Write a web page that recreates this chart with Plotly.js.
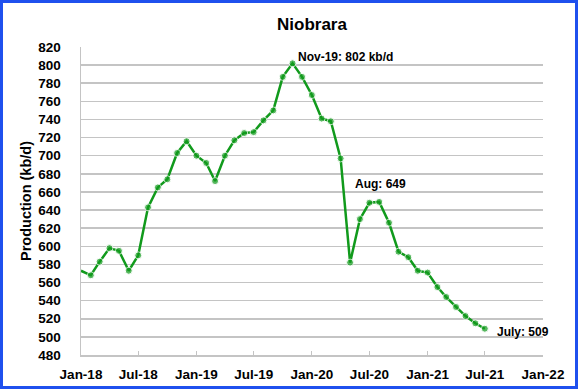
<!DOCTYPE html>
<html>
<head>
<meta charset="utf-8">
<script src="https://cdn.plot.ly/plotly-3.0.1.min.js"></script>
<style>
  html, body { margin: 0; padding: 0; background: #ffffff; }
  #wrap { position: relative; width: 579px; height: 391px; overflow: hidden; }
  #chart { position: absolute; left: 0; top: 0; width: 579px; height: 391px; }
  #frame { position: absolute; left: 0; top: 0; width: 578px; height: 389px;
           box-sizing: border-box; border: 3px solid #1f50ee; pointer-events: none; }
</style>
</head>
<body>
<div id="wrap">
  <div id="chart"></div>
  <div id="frame"></div>
</div>
<script>
// Monthly Niobrara production (kb/d), Jan-2018 .. Jul-2021
const months = [
  '2018-01-01','2018-02-01','2018-03-01','2018-04-01','2018-05-01','2018-06-01',
  '2018-07-01','2018-08-01','2018-09-01','2018-10-01','2018-11-01','2018-12-01',
  '2019-01-01','2019-02-01','2019-03-01','2019-04-01','2019-05-01','2019-06-01',
  '2019-07-01','2019-08-01','2019-09-01','2019-10-01','2019-11-01','2019-12-01',
  '2020-01-01','2020-02-01','2020-03-01','2020-04-01','2020-05-01','2020-06-01',
  '2020-07-01','2020-08-01','2020-09-01','2020-10-01','2020-11-01','2020-12-01',
  '2021-01-01','2021-02-01','2021-03-01','2021-04-01','2021-05-01','2021-06-01',
  '2021-07-01'
];
const production = [
  573, 568, 583, 598, 595, 573,
  590, 643, 665, 674, 703, 716,
  700, 692, 672, 700, 717, 725,
  726, 739, 750, 787, 802, 787,
  767, 741, 738, 697, 582, 630,
  648, 649, 626, 594, 588, 573,
  571, 555, 544, 533, 523, 515,
  509
];
const annotationTexts = ['Nov-19: 802 kb/d', 'Aug: 649', 'July: 509'];
const annotationDates = ['2019-11-01', '2020-08-01', '2021-07-01'];
const annotationValues = [802, 649, 509];

const green = '#119a1c';
const grid = '#c4c4c4';
const font = 'Liberation Sans, Arial, sans-serif';

const sizes = production.map((v, i) => i === 0 ? 0 : 7);

const trace = {
  x: months,
  y: production,
  type: 'scatter',
  mode: 'lines+markers',
  line: { color: green, width: 2.5 },
  marker: { color: green, size: sizes },
  cliponaxis: true,
  hoverinfo: 'x+y'
};

const annos = [
  { x: annotationDates[0], y: annotationValues[0], text: '<b>' + annotationTexts[0] + '</b>',
    xanchor: 'left', yanchor: 'middle', xshift: 3, yshift: 6 },
  { x: annotationDates[1], y: annotationValues[1], text: '<b>' + annotationTexts[1] + '</b>',
    xanchor: 'center', yanchor: 'middle', xshift: 1, yshift: 18 },
  { x: annotationDates[2], y: annotationValues[2], text: '<b>' + annotationTexts[2] + '</b>',
    xanchor: 'left', yanchor: 'middle', xshift: 10, yshift: -3 }
].map(a => Object.assign({ showarrow: false, font: { family: font, size: 12, color: '#000' } }, a));

const layout = {
  width: 579, height: 391,
  margin: { l: 81, r: 36, t: 47, b: 36 },
  paper_bgcolor: '#ffffff',
  plot_bgcolor: '#ffffff',
  showlegend: false,
  font: { family: font, size: 12, color: '#000' },
  title: {
    text: '<b>Niobrara</b>',
    font: { family: font, size: 17, color: '#000' },
    x: 0.5, xanchor: 'center', xref: 'paper',
    y: 1 - 24 / 391, yanchor: 'middle', yref: 'container'
  },
  xaxis: {
    type: 'date',
    range: ['2018-01-01', '2022-01-01'],
    tick0: '2018-01-01',
    dtick: 'M6',
    tickformat: '%b-%y',
    showgrid: false,
    showline: true, linecolor: grid, linewidth: 1.5,
    ticks: 'inside', ticklen: 4, tickcolor: grid, tickwidth: 1,
    ticklabelstandoff: 6,
    tickfont: { family: font, size: 13.5, color: '#000', weight: 'bold' },
    zeroline: false,
    fixedrange: true
  },
  yaxis: {
    range: [480, 820],
    dtick: 20,
    tick0: 480,
    showgrid: true, gridcolor: grid, gridwidth: 1.5,
    showline: true, linecolor: grid, linewidth: 1.5,
    ticks: '', ticklabelstandoff: 16,
    tickfont: { family: font, size: 13.5, color: '#000', weight: 'bold' },
    zeroline: false,
    title: { text: '<b>Production (kb/d)</b>', font: { family: font, size: 14.5, color: '#000' }, standoff: 3 },
    fixedrange: true
  },
  annotations: annos
};

Plotly.newPlot('chart', [trace], layout, { displayModeBar: false, staticPlot: true });
</script>
</body>
</html>
